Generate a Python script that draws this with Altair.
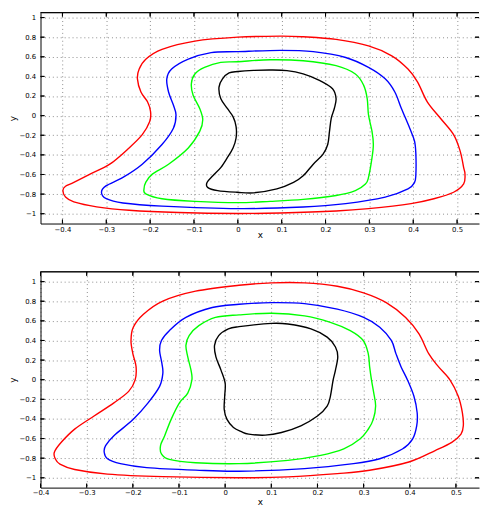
import altair as alt
import pandas as pd

Y_TICKS = [-1, -0.8, -0.6, -0.4, -0.2, 0, 0.2, 0.4, 0.6, 0.8, 1]
X_TICKS = [-0.4, -0.3, -0.2, -0.1, 0, 0.1, 0.2, 0.3, 0.4, 0.5]
CURVES = ["red", "blue", "green", "black"]
COLORS = ["#ff0000", "#0000ff", "#00ff00", "#000000"]

# ---------------- top panel ----------------
TOP_RED_X = [0, -0.098, -0.173, -0.21, -0.225, -0.229, -0.221, -0.206, -0.199, -0.201, -0.218, -0.248,
             -0.292, -0.337, -0.374, -0.393, -0.399, -0.393, -0.374, -0.322, -0.248, -0.136, 0,
             0.097, 0.224, 0.298, 0.395, 0.447, 0.492, 0.515, 0.518, 0.515, 0.507, 0.492, 0.462,
             0.432, 0.41, 0.388, 0.351, 0.298, 0.224, 0.149, 0.097]
TOP_RED_Y = [0.80, 0.76, 0.676, 0.576, 0.475, 0.375, 0.241, 0.141, 0.04, -0.06, -0.194, -0.329,
             -0.495, -0.596, -0.68, -0.72, -0.764, -0.83, -0.88, -0.93, -0.965, -0.988, -0.998,
             -0.992, -0.972, -0.948, -0.897, -0.847, -0.781, -0.696, -0.596, -0.53, -0.362, -0.194, -0.027,
             0.141, 0.342, 0.475, 0.61, 0.711, 0.777, 0.804, 0.811]

TOP_BLUE_X = [0, -0.061, -0.113, -0.151, -0.162, -0.158, -0.147, -0.141, -0.147, -0.173, -0.218, -0.262,
              -0.3, -0.311, -0.3, -0.262, -0.173, 0,
              0.149, 0.246, 0.336, 0.388, 0.403, 0.406, 0.406, 0.403, 0.392, 0.373, 0.358, 0.336,
              0.298, 0.246, 0.172, 0.097]
TOP_BLUE_Y = [0.653, 0.643, 0.576, 0.475, 0.375, 0.241, 0.108, 0.007, -0.128, -0.294, -0.495, -0.63,
              -0.714, -0.781, -0.847, -0.891, -0.922, -0.948,
              -0.932, -0.897, -0.831, -0.747, -0.68, -0.596, -0.395, -0.261, -0.128, 0.073, 0.241, 0.375,
              0.492, 0.593, 0.653, 0.666]

TOP_GREEN_X = [0, -0.039, -0.076, -0.098, -0.106, -0.102, -0.087, -0.08, -0.087, -0.113, -0.158, -0.195,
               -0.21, -0.214, -0.21, -0.173, -0.098, 0,
               0.074, 0.149, 0.224, 0.268, 0.291, 0.298, 0.306, 0.309, 0.306, 0.298, 0.295, 0.287,
               0.268, 0.224, 0.149, 0.074]
TOP_GREEN_Y = [0.55, 0.543, 0.492, 0.425, 0.325, 0.208, 0.073, -0.043, -0.161, -0.329, -0.495, -0.596,
               -0.68, -0.747, -0.797, -0.847, -0.874, -0.887,
               -0.874, -0.854, -0.814, -0.764, -0.697, -0.63, -0.429, -0.294, -0.161, 0.007, 0.174, 0.309,
               0.425, 0.51, 0.56, 0.57]

TOP_BLACK_X = [0, -0.02, -0.035, -0.043, -0.039, -0.024, -0.011, -0.004, -0.004, -0.011, -0.024, -0.039,
               -0.057, -0.07, -0.069, -0.046, -0.002,
               0.036, 0.089, 0.127, 0.149, 0.172, 0.194, 0.205, 0.209, 0.213, 0.22, 0.224, 0.216,
               0.186, 0.149, 0.112, 0.074, 0.036]
TOP_BLACK_Y = [0.45, 0.435, 0.375, 0.291, 0.174, 0.073, -0.01, -0.111, -0.228, -0.329, -0.429, -0.53,
               -0.613, -0.68, -0.731, -0.764, -0.781,
               -0.787, -0.747, -0.68, -0.613, -0.495, -0.395, -0.294, -0.161, -0.027, 0.073, 0.174, 0.274,
               0.359, 0.425, 0.459, 0.465, 0.461]

# ---------------- bottom panel ----------------
BOT_RED_X = [0.03, -0.064, -0.135, -0.177, -0.199, -0.204, -0.2, -0.193, -0.195, -0.209, -0.241, -0.284,
             -0.326, -0.355, -0.37, -0.368, -0.358, -0.326, -0.255, -0.135, 0.03,
             0.136, 0.243, 0.313, 0.398, 0.455, 0.491, 0.511, 0.516, 0.514, 0.505, 0.487, 0.462,
             0.441, 0.42, 0.391, 0.349, 0.3, 0.243, 0.172, 0.101]
BOT_RED_Y = [0.963, 0.903, 0.802, 0.668, 0.535, 0.4, 0.266, 0.133, -0.002, -0.119, -0.236, -0.37,
             -0.504, -0.638, -0.739, -0.806, -0.86, -0.915, -0.962, -0.988, -1.0,
             -0.99, -0.957, -0.923, -0.839, -0.722, -0.638, -0.555, -0.47, -0.337, -0.169, -0.002, 0.133,
             0.266, 0.467, 0.635, 0.786, 0.886, 0.953, 0.987, 0.987]

BOT_BLUE_X = [0.03, -0.028, -0.085, -0.121, -0.138, -0.142, -0.137, -0.135, -0.142, -0.167, -0.199, -0.241,
              -0.259, -0.262, -0.255, -0.227, -0.17, -0.064, 0.03,
              0.172, 0.278, 0.335, 0.384, 0.406, 0.415, 0.416, 0.409, 0.395, 0.381, 0.37, 0.36,
              0.335, 0.3, 0.243, 0.172, 0.101]
BOT_BLUE_Y = [0.769, 0.736, 0.635, 0.5, 0.4, 0.3, 0.166, 0.065, -0.068, -0.236, -0.404, -0.571,
              -0.671, -0.739, -0.806, -0.856, -0.896, -0.922, -0.933,
              -0.906, -0.856, -0.806, -0.706, -0.605, -0.47, -0.337, -0.169, -0.002, 0.133, 0.266, 0.4,
              0.535, 0.635, 0.719, 0.776, 0.786]

BOT_GREEN_X = [0.03, -0.021, -0.057, -0.078, -0.085, -0.081, -0.074, -0.072, -0.081, -0.099, -0.117, -0.131,
               -0.14, -0.138, -0.121, -0.064, 0.03,
               0.136, 0.207, 0.257, 0.292, 0.31, 0.321, 0.326, 0.322, 0.317, 0.313, 0.31, 0.299,
               0.271, 0.228, 0.172, 0.101]
BOT_GREEN_Y = [0.661, 0.635, 0.551, 0.45, 0.35, 0.233, 0.098, -0.002, -0.136, -0.236, -0.404, -0.571,
               -0.671, -0.756, -0.812, -0.846, -0.856,
               -0.822, -0.772, -0.706, -0.605, -0.505, -0.404, -0.269, -0.136, -0.002, 0.133, 0.266, 0.4,
               0.5, 0.585, 0.651, 0.678]

BOT_BLACK_X = [0.03, 0.007, -0.014, -0.023, -0.02, -0.009, 0.0, -0.001, -0.002, 0.004, 0.018, 0.035,
               0.051, 0.087, 0.122, 0.164, 0.2, 0.221, 0.228, 0.234, 0.239, 0.244, 0.239, 0.221,
               0.186, 0.136, 0.101]
BOT_BLACK_Y = [0.541, 0.518, 0.45, 0.35, 0.233, 0.098, -0.035, -0.169, -0.304, -0.404, -0.487, -0.53,
               -0.555, -0.565, -0.538, -0.47, -0.37, -0.269, -0.169, -0.002, 0.098, 0.233, 0.334, 0.434,
               0.518, 0.568, 0.575]

W = 445
TICK_PX = 4


def build_df(series, xdom, ydom, h):
    frames = []
    for name, color, xs, ys in series:
        frames.append(pd.DataFrame({"x": xs, "y": ys, "g": name, "col": color, "sw": 1.4,
                                    "i": list(range(len(xs)))}))
    # inner tick marks (MATLAB style) and the top frame line, placed through the same scales
    dx = (xdom[1] - xdom[0]) * TICK_PX / W
    dy = (ydom[1] - ydom[0]) * TICK_PX / h
    segs = []
    for v in X_TICKS:
        segs.append((v, ydom[1], v, ydom[1] - dy))
        segs.append((v, ydom[0], v, ydom[0] + dy))
    for v in Y_TICKS:
        segs.append((xdom[0], v, xdom[0] + dx, v))
        segs.append((xdom[1] - dx, v, xdom[1], v))
    segs.append((xdom[0], ydom[1], xdom[1], ydom[1]))
    for k, (x1, y1, x2, y2) in enumerate(segs):
        frames.append(pd.DataFrame({"x": [x1, x2], "y": [y1, y2], "g": "seg%d" % k, "col": "#000000",
                                    "sw": 1.0, "i": [0, 1]}))
    return pd.concat(frames, ignore_index=True)


def panel(series, xdom, ydom, h, lab_pad, title_pad):
    df = build_df(series, xdom, ydom, h)
    xs = alt.Scale(domain=xdom, nice=False, zero=False)
    ys = alt.Scale(domain=ydom, nice=False, zero=False)
    x_axis = alt.Axis(values=X_TICKS, format="~g", title="x", grid=True, ticks=False, tickSize=0,
                      labelPadding=lab_pad, titlePadding=title_pad, labelFlush=False, labelOverlap=False)
    y_axis = alt.Axis(values=Y_TICKS, format="~g", title="y", grid=True, ticks=False, tickSize=0,
                      labelPadding=5, titlePadding=1, minExtent=22, maxExtent=22,
                      labelFlush=False, labelOverlap=False)
    return alt.Chart(df).mark_line(interpolate="cardinal-closed", strokeJoin="round").encode(
        x=alt.X("x:Q", scale=xs, axis=x_axis),
        y=alt.Y("y:Q", scale=ys, axis=y_axis),
        color=alt.Color("col:N", scale=None),
        strokeWidth=alt.StrokeWidth("sw:Q", scale=None),
        detail="g:N",
        order="i:Q",
    ).properties(width=W, height=h)


top_series = [("red", COLORS[0], TOP_RED_X, TOP_RED_Y), ("blue", COLORS[1], TOP_BLUE_X, TOP_BLUE_Y),
              ("green", COLORS[2], TOP_GREEN_X, TOP_GREEN_Y), ("black", COLORS[3], TOP_BLACK_X, TOP_BLACK_Y)]
bot_series = [("red", COLORS[0], BOT_RED_X, BOT_RED_Y), ("blue", COLORS[1], BOT_BLUE_X, BOT_BLUE_Y),
              ("green", COLORS[2], BOT_GREEN_X, BOT_GREEN_Y), ("black", COLORS[3], BOT_BLACK_X, BOT_BLACK_Y)]

top = panel(top_series, [-0.45, 0.55], [-1.1, 1.05], 214, 2, -2)
bottom = panel(bot_series, [-0.4, 0.55], [-1.1, 1.1], 219, 1, 2)

chart = alt.vconcat(top, bottom, spacing=49, bounds="flush").properties(
    padding={"left": 0, "top": 0, "right": 0, "bottom": 0},
).configure_view(
    stroke="transparent"
).configure_axis(
    labelFont="DejaVu Sans", labelFontSize=7, labelColor="black",
    titleFont="DejaVu Sans", titleFontSize=9, titleFontWeight="normal", titleColor="black",
    domainColor="black", domainWidth=1,
    gridColor="#8c8c8c", gridDash=[1, 3], gridWidth=1, gridOpacity=1,
)

chart.save("out.html", embed_options={"renderer": "svg", "actions": False})
